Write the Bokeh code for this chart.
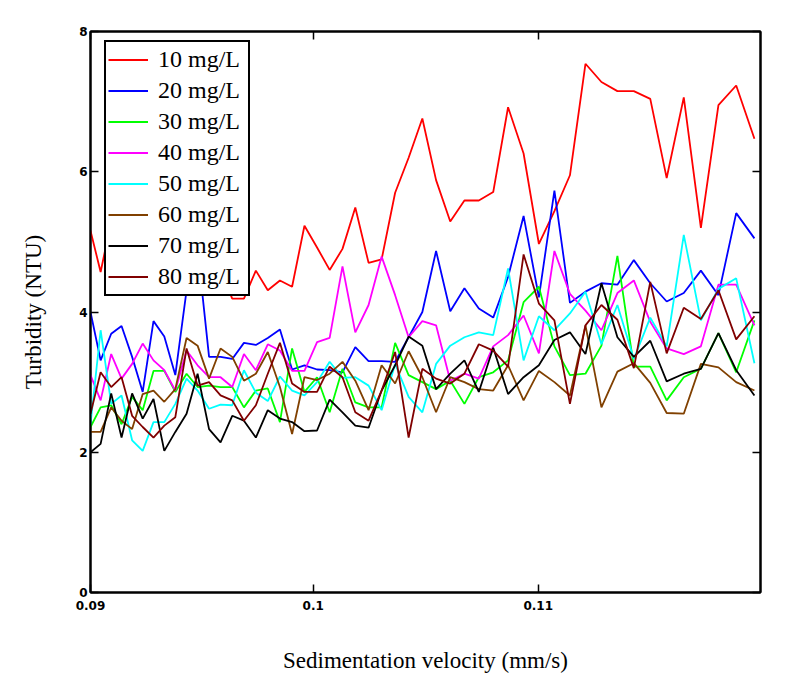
from bokeh.plotting import figure
from bokeh.models import LinearAxis, FixedTicker, Range1d
from bokeh.embed import file_html
from bokeh.resources import INLINE

# sedimentation velocity (mm/s)
velocity = [0.09010, 0.09055, 0.09102, 0.09148, 0.09195, 0.09242, 0.09290, 0.09338, 0.09387, 0.09437,
            0.09486, 0.09537, 0.09588, 0.09640, 0.09692, 0.09745, 0.09798, 0.09852, 0.09906, 0.09961,
            0.10017, 0.10073, 0.10130, 0.10187, 0.10246, 0.10304, 0.10364, 0.10424, 0.10485, 0.10546,
            0.10609, 0.10672, 0.10736, 0.10800, 0.10866, 0.10935, 0.11003, 0.11072, 0.11141, 0.11210,
            0.11281, 0.11352, 0.11425, 0.11498, 0.11571, 0.11647, 0.11723, 0.11801, 0.11880, 0.11961]

# turbidity (NTU) per dose
c10 = [5.16, 4.57, 5.30, 4.70, 5.00, 4.80, 4.60, 4.90, 4.75, 4.55,
       4.85, 4.65, 4.60, 4.19, 4.19, 4.59, 4.31, 4.45, 4.36, 5.23,
       4.92, 4.60, 4.90, 5.49, 4.70, 4.75, 5.70, 6.20, 6.76, 5.88,
       5.29, 5.59, 5.59, 5.71, 6.92, 6.26, 4.97, 5.44, 5.95, 7.54,
       7.28, 7.15, 7.15, 7.04, 5.91, 7.06, 5.20, 6.95, 7.23, 6.47]
c20 = [4.00, 3.31, 3.69, 3.80, 3.36, 2.86, 3.87, 3.65, 3.10, 4.31,
       4.90, 3.36, 3.36, 3.33, 3.56, 3.53, 3.63, 3.75, 3.18, 3.24,
       3.18, 3.17, 3.14, 3.50, 3.30, 3.30, 3.29, 3.64, 4.00, 4.87,
       4.01, 4.34, 4.05, 3.92, 4.50, 5.37, 4.21, 5.73, 4.13, 4.29,
       4.41, 4.39, 4.74, 4.41, 4.15, 4.27, 4.59, 4.24, 5.41, 5.05]
c30 = [2.36, 2.64, 2.67, 2.40, 2.79, 2.60, 3.16, 3.16, 2.86, 3.12,
       2.93, 2.95, 2.93, 2.93, 2.64, 2.88, 2.91, 2.43, 3.48, 2.86,
       3.07, 2.57, 3.19, 2.71, 2.64, 2.64, 3.56, 3.10, 3.00, 2.90,
       3.02, 2.69, 3.07, 3.14, 3.31, 4.14, 4.36, 3.51, 3.10, 3.12,
       3.52, 4.80, 3.22, 3.22, 2.74, 3.07, 3.19, 3.70, 3.14, 3.88]
c40 = [3.10, 2.74, 3.40, 3.05, 3.26, 3.55, 3.31, 3.17, 2.88, 3.45,
       3.24, 3.07, 3.07, 2.93, 3.40, 3.17, 3.54, 3.45, 3.16, 3.16,
       3.57, 3.63, 4.65, 3.71, 4.10, 4.79, 4.24, 3.64, 3.87, 3.81,
       3.02, 3.12, 3.05, 3.51, 3.67, 3.95, 3.41, 4.87, 4.26, 4.02,
       3.74, 4.27, 4.45, 3.86, 3.48, 3.40, 3.51, 4.39, 4.39, 3.81]
c50 = [2.40, 3.74, 2.69, 2.81, 2.17, 2.02, 2.43, 2.43, 2.69, 3.05,
       2.88, 2.62, 2.68, 2.67, 3.17, 2.85, 2.73, 3.08, 2.88, 2.81,
       3.00, 3.29, 3.06, 3.07, 2.95, 2.60, 3.26, 2.79, 2.57, 3.26,
       3.52, 3.64, 3.71, 3.67, 4.62, 3.31, 3.94, 3.74, 3.98, 4.29,
       3.54, 4.10, 3.33, 3.92, 3.51, 5.10, 3.88, 4.33, 4.48, 3.27]
c60 = [2.29, 2.29, 2.64, 2.45, 2.33, 2.83, 2.88, 2.72, 2.90, 3.63,
       3.52, 3.05, 3.48, 3.36, 3.02, 3.12, 3.43, 2.93, 2.26, 3.07,
       3.03, 3.12, 3.29, 3.02, 2.60, 3.24, 2.98, 3.44, 3.07, 2.57,
       3.07, 3.00, 2.90, 2.88, 3.24, 2.74, 3.16, 3.00, 2.81, 3.81,
       2.64, 3.15, 3.27, 2.99, 2.56, 2.55, 3.26, 3.21, 3.00, 2.88]
c70 = [2.00, 2.12, 2.84, 2.21, 2.84, 2.48, 2.76, 2.02, 2.29, 2.55,
       3.12, 2.33, 2.14, 2.52, 2.45, 2.21, 2.60, 2.48, 2.43, 2.30,
       2.31, 2.75, 2.57, 2.38, 2.35, 2.88, 3.24, 3.65, 3.52, 2.90,
       3.12, 3.31, 2.86, 3.49, 2.83, 3.07, 3.24, 3.60, 3.71, 3.40,
       4.41, 3.64, 3.36, 3.59, 3.01, 3.12, 3.19, 3.70, 3.17, 2.81]
c80 = [2.55, 3.14, 2.93, 3.07, 2.52, 2.36, 2.21, 2.38, 2.50, 3.48,
       2.95, 3.00, 2.81, 2.74, 2.45, 2.67, 3.12, 3.56, 2.98, 2.86,
       2.86, 3.22, 3.07, 2.57, 2.45, 2.88, 3.43, 2.21, 3.19, 3.05,
       2.98, 3.12, 3.54, 3.45, 3.22, 4.82, 4.12, 3.88, 2.69, 3.81,
       4.10, 3.89, 3.20, 4.43, 3.41, 4.06, 3.90, 4.31, 3.61, 3.94]

series = [c10, c20, c30, c40, c50, c60, c70, c80]
names = ["10 mg/L", "20 mg/L", "30 mg/L", "40 mg/L", "50 mg/L", "60 mg/L", "70 mg/L", "80 mg/L"]
colors = ["#ff0000", "#0000ff", "#00ff00", "#ff00ff", "#00ffff", "#804000", "#000000", "#800000"]

x_ticks = [0.0901, 0.1, 0.11]
x_tick_labels = {0.0901: "0.09", 0.1: "0.1", 0.11: "0.11"}
y_ticks = [0, 2, 4, 6, 8]

p = figure(width=792, height=677, output_backend="svg", toolbar_location=None,
           x_range=Range1d(0.0901, 0.11988), y_range=Range1d(0, 8),
           min_border_left=90, min_border_right=32, min_border_top=31, min_border_bottom=85)
p.grid.visible = False
p.outline_line_color = "black"
p.outline_line_width = 2
p.outline_line_alpha = 1.0

for ys, name, col in zip(series, names, colors):
    p.line(velocity, ys, line_color=col, line_width=1.8, legend_label=name)

tick_font = "DejaVu Sans"
serif = "Liberation Serif"

p.xaxis.ticker = FixedTicker(ticks=x_ticks)
p.xaxis.major_label_overrides = x_tick_labels
p.yaxis.ticker = FixedTicker(ticks=y_ticks)
for ax in p.xaxis + p.yaxis:
    ax.axis_line_width = 2
    ax.major_tick_in = 8
    ax.major_tick_out = 0
    ax.major_tick_line_width = 1.5
    ax.minor_tick_line_color = None
    ax.major_label_text_font = tick_font
    ax.major_label_text_font_style = "bold"
    ax.major_label_text_font_size = "12px"
    ax.major_label_text_color = "black"
    ax.axis_label_text_font = serif
    ax.axis_label_text_font_style = "normal"
    ax.axis_label_text_font_size = "23px"
    ax.axis_label_text_color = "black"
p.xaxis.major_label_standoff = 8
p.yaxis.major_label_standoff = 3
p.xaxis.axis_label = "Sedimentation velocity (mm/s)"
p.yaxis.axis_label = "Turbidity (NTU)"
p.xaxis.axis_label_standoff = 35
p.yaxis.axis_label_standoff = 30

top = LinearAxis(ticker=FixedTicker(ticks=x_ticks), axis_line_width=2, major_tick_in=8,
                 major_tick_out=0, major_tick_line_width=1.5, minor_tick_line_color=None,
                 major_label_text_color=None, major_label_text_font_size="1px")
right = LinearAxis(ticker=FixedTicker(ticks=y_ticks), axis_line_width=2, major_tick_in=8,
                   major_tick_out=0, major_tick_line_width=1.5, minor_tick_line_color=None,
                   major_label_text_color=None, major_label_text_font_size="1px")
p.add_layout(top, "above")
p.add_layout(right, "right")

leg = p.legend[0]
leg.location = (14, 296)
leg.padding = 2
leg.margin = 0
leg.spacing = 0
leg.label_height = 31
leg.glyph_height = 31
leg.glyph_width = 40
leg.label_standoff = 10
leg.label_width = 88
leg.label_text_font = serif
leg.label_text_font_size = "24px"
leg.label_text_color = "black"
leg.border_line_color = "black"
leg.border_line_width = 2
leg.border_line_alpha = 1.0
leg.background_fill_color = "white"
leg.background_fill_alpha = 1.0

open("out.html", "w").write(file_html(p, INLINE))
